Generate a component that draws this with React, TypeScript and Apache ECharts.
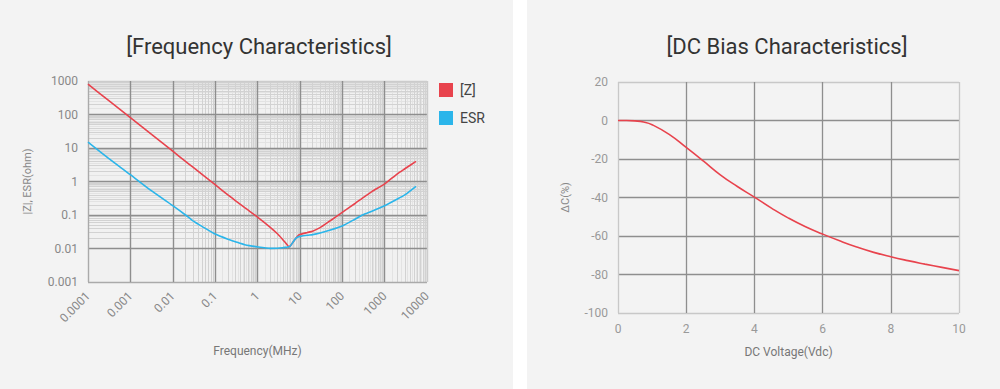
import React, { useEffect, useRef } from "react";
import * as echarts from "echarts";

// ---------- Data ----------
const freqMHz = [0.0001, 0.0003, 0.001, 0.003, 0.01, 0.02, 0.03, 0.05, 0.1, 0.2, 0.3, 0.5, 1, 2, 3, 4, 5, 5.5, 6, 7, 8, 9, 10, 15, 20, 30, 50, 100, 200, 300, 500, 1000, 2000, 3000, 5500];
const zValues = [800, 267, 80, 26.7, 8, 4, 2.67, 1.6, 0.8, 0.4, 0.27, 0.165, 0.087, 0.043, 0.027, 0.018, 0.013, 0.0112, 0.012, 0.016, 0.02, 0.024, 0.026, 0.03, 0.033, 0.042, 0.065, 0.12, 0.22, 0.32, 0.5, 0.85, 1.7, 2.4, 4];
const esrValues = [15, 5, 1.6, 0.55, 0.19, 0.1, 0.067, 0.045, 0.027, 0.019, 0.016, 0.013, 0.0112, 0.0101, 0.0102, 0.0106, 0.011, 0.0112, 0.012, 0.016, 0.02, 0.022, 0.023, 0.025, 0.026, 0.029, 0.035, 0.047, 0.075, 0.1, 0.13, 0.19, 0.3, 0.4, 0.72];

const freqTickLabels = ["0.0001", "0.001", "0.01", "0.1", "1", "10", "100", "1000", "10000"];
const impTickLabels = ["0.001", "0.01", "0.1", "1", "10", "100", "1000"];

const dcVoltage = [0, 0.25, 0.5, 0.75, 1, 1.5, 2, 2.5, 3, 3.5, 4, 4.5, 5, 5.5, 6, 6.5, 7, 7.5, 8, 8.5, 9, 9.5, 10];
const dcChange = [0, 0, -0.2, -0.8, -2.2, -7.2, -14, -21, -28.2, -34.3, -39.8, -45.5, -50.7, -55.2, -59, -62.5, -65.7, -68.5, -70.8, -72.8, -74.6, -76.3, -78];

const seriesNames = ["[Z]", "ESR"];

// ---------- Helpers ----------
const RED = "#e8434d";
const BLUE = "#2bb5ea";
const FONT = "Roboto, 'Noto Sans', sans-serif";

function decadeSteps(fromExp: number, toExp: number, mults: number[]): number[] {
  const out: number[] = [];
  for (let e = fromExp; e < toExp; e++) {
    for (const k of mults) out.push(parseFloat((k * Math.pow(10, e)).toPrecision(6)));
  }
  return out;
}

function labelFor(list: string[], minExp: number) {
  return (v: number) => {
    const i = Math.round(Math.log10(v)) - minExp;
    return list[i] ?? "";
  };
}

function gridLineSeries(name: string, xs: number[], ys: number[], color: string, z: number) {
  return {
    name,
    type: "line",
    xAxisIndex: 0,
    yAxisIndex: 0,
    z,
    silent: true,
    showSymbol: false,
    lineStyle: { opacity: 0 },
    data: [[freqMHz[0], zValues[0]]],
    markLine: {
      z,
      silent: true,
      symbol: ["none", "none"],
      label: { show: false },
      emphasis: { disabled: true },
      lineStyle: { color, width: 1, type: "solid" },
      data: [...xs.map((v) => ({ xAxis: v })), ...ys.map((v) => ({ yAxis: v }))],
    },
  };
}

export default function App() {
  const ref = useRef<HTMLDivElement>(null);

  useEffect(() => {
    if (!ref.current) return;
    const chart = echarts.init(ref.current, undefined, { renderer: "svg" });

    const main = [2, 3, 4, 5, 6, 7, 8, 9];
    const fine = [1.5, 2.5, 3.5, 4.5, 5.5, 6.5, 7.5, 8.5, 9.5];

    const option: any = {
      animation: false,
      backgroundColor: "#f3f3f3",
      textStyle: { fontFamily: FONT },
      graphic: [
        { type: "rect", z: -10, shape: { x: 513, y: 0, width: 14, height: 389 }, style: { fill: "#ffffff" } },
        {
          type: "text", x: 259, y: 46,
          style: { text: "[Frequency Characteristics]", fontSize: 22, fill: "#333", align: "center", verticalAlign: "middle", fontFamily: FONT },
        },
        {
          type: "text", x: 787, y: 46,
          style: { text: "[DC Bias Characteristics]", fontSize: 22, fill: "#333", align: "center", verticalAlign: "middle", fontFamily: FONT },
        },
      ],
      legend: {
        data: seriesNames,
        orient: "vertical",
        left: 439,
        top: 83,
        padding: 0,
        itemWidth: 14,
        itemHeight: 14,
        itemGap: 14,
        icon: "rect",
        selectedMode: false,
        textStyle: { fontSize: 14, color: "#444", fontFamily: FONT, padding: [0, 0, 0, 2] },
      },
      grid: [
        { left: 88, top: 81, width: 339, height: 201, show: true, backgroundColor: "#f1f1f1", borderWidth: 0 },
        { left: 618, top: 82, width: 341, height: 231, show: false },
      ],
      xAxis: [
        {
          type: "log", gridIndex: 0, logBase: 10, min: 0.0001, max: 10000, splitNumber: 8, z: 2,
          name: "Frequency(MHz)", nameLocation: "middle", nameGap: 63,
          nameTextStyle: { fontSize: 12, color: "#777", fontFamily: FONT },
          axisLine: { show: false }, axisTick: { show: false },
          axisLabel: { rotate: 45, margin: 12, fontSize: 12, color: "#888", fontFamily: FONT, formatter: labelFor(freqTickLabels, -4) },
          splitLine: { show: true, lineStyle: { width: 1.4, color: ["#aaaaaa", "#8e8e8e", "#8e8e8e", "#8e8e8e", "#8e8e8e", "#8e8e8e", "#8e8e8e", "#8e8e8e", "#cccccc"] } },
        },
        {
          type: "value", gridIndex: 1, min: 0, max: 10, interval: 2, z: 2,
          name: "DC Voltage(Vdc)", nameLocation: "middle", nameGap: 33,
          nameTextStyle: { fontSize: 12, color: "#777", fontFamily: FONT },
          axisLine: { show: false }, axisTick: { show: false },
          axisLabel: { margin: 10, fontSize: 12, color: "#999", fontFamily: FONT },
          splitLine: { show: true, lineStyle: { width: 1.3, color: ["#c8c8c8", "#8e8e8e", "#8e8e8e", "#8e8e8e", "#8e8e8e", "#c8c8c8"] } },
        },
      ],
      yAxis: [
        {
          type: "log", gridIndex: 0, logBase: 10, min: 0.001, max: 1000, splitNumber: 6, z: 2,
          name: "|Z|, ESR(ohm)", nameLocation: "middle", nameGap: 55,
          nameTextStyle: { fontSize: 11, color: "#888", fontFamily: FONT },
          axisLine: { show: false }, axisTick: { show: false },
          axisLabel: { margin: 10, fontSize: 12, color: "#888", fontFamily: FONT, formatter: labelFor(impTickLabels, -3) },
          splitLine: { show: true, lineStyle: { width: 1.4, color: ["#aaaaaa", "#8e8e8e", "#8e8e8e", "#8e8e8e", "#8e8e8e", "#8e8e8e", "#cccccc"] } },
        },
        {
          type: "value", gridIndex: 1, min: -100, max: 20, interval: 20, z: 2,
          name: "ΔC(%)", nameLocation: "middle", nameGap: 47,
          nameTextStyle: { fontSize: 11, color: "#888", fontFamily: FONT },
          axisLine: { show: false }, axisTick: { show: false },
          axisLabel: { margin: 10, fontSize: 12, color: "#999", fontFamily: FONT },
          splitLine: { show: true, lineStyle: { width: 1.3, color: ["#c8c8c8", "#8e8e8e", "#8e8e8e", "#8e8e8e", "#8e8e8e", "#8e8e8e", "#c8c8c8"] } },
        },
      ],
      series: [
        gridLineSeries("fine-grid", decadeSteps(-4, 4, fine), decadeSteps(-3, 3, fine), "#e3e3e3", 0.5),
        gridLineSeries("minor-grid", decadeSteps(-4, 4, main), decadeSteps(-3, 3, main), "#d2d2d2", 1),
        {
          name: seriesNames[0],
          type: "line",
          xAxisIndex: 0,
          yAxisIndex: 0,
          z: 5,
          smooth: 0.2,
          showSymbol: false,
          color: RED,
          lineStyle: { color: RED, width: 1.6 },
          data: freqMHz.map((f, i) => [f, zValues[i]]),
        },
        {
          name: seriesNames[1],
          type: "line",
          xAxisIndex: 0,
          yAxisIndex: 0,
          z: 5,
          smooth: 0.2,
          showSymbol: false,
          color: BLUE,
          lineStyle: { color: BLUE, width: 1.6 },
          data: freqMHz.map((f, i) => [f, esrValues[i]]),
        },
        {
          name: "DC Bias",
          type: "line",
          xAxisIndex: 1,
          yAxisIndex: 1,
          z: 5,
          smooth: true,
          showSymbol: false,
          color: RED,
          lineStyle: { color: RED, width: 1.6 },
          data: dcVoltage.map((v, i) => [v, dcChange[i]]),
        },
      ],
    };

    chart.setOption(option);
    return () => chart.dispose();
  }, []);

  return <div ref={ref} style={{ position: "absolute", left: 0, top: 0, width: 1000, height: 389 }} />;
}
